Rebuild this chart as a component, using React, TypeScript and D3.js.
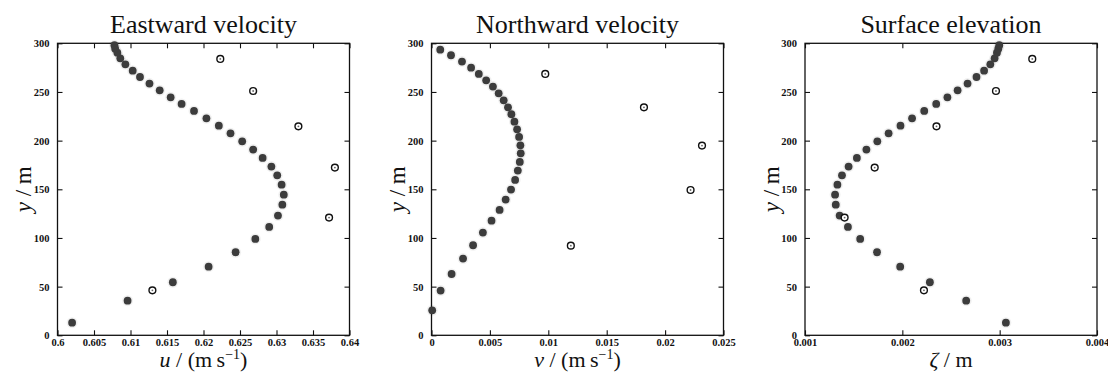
import React, {useRef, useEffect} from 'react'
import * as d3 from 'd3'

// model levels shared by eastward velocity and surface elevation
const levels = [13, 35.6, 54.5, 70.5, 85.3, 99, 111.3, 123, 134.2, 144.5, 154.8, 164.4, 173.3, 182.2, 190.8, 199.3, 207.5, 215.4, 222.9, 230.5, 237.7, 244.5, 251.7, 258.6, 265.4, 271.9, 278.4, 284.6, 290.4, 294.5, 298]
const eastModel = [0.602, 0.6096, 0.6158, 0.6207, 0.6244, 0.6271, 0.629, 0.6302, 0.6308, 0.631, 0.6307, 0.6301, 0.6293, 0.6281, 0.6268, 0.6253, 0.6237, 0.6221, 0.6204, 0.6187, 0.617, 0.6155, 0.614, 0.6126, 0.6113, 0.6103, 0.6093, 0.6086, 0.6082, 0.6079, 0.6078]
const elevModel = [0.003064, 0.002656, 0.002283, 0.001978, 0.00174, 0.001567, 0.001441, 0.001356, 0.001316, 0.001309, 0.001333, 0.00138, 0.001448, 0.001533, 0.001631, 0.001743, 0.001859, 0.001981, 0.0021, 0.002225, 0.002348, 0.002463, 0.002568, 0.00267, 0.002762, 0.00284, 0.002904, 0.002948, 0.002972, 0.002986, 0.002996]

// staggered levels for northward velocity
const northLevels = [25.7, 45.9, 63, 78.8, 92.5, 105.5, 117.8, 128.8, 139.4, 149.7, 159.6, 169.2, 178.1, 187, 195.2, 203.8, 211.6, 219.5, 227.1, 234.2, 241.4, 248.6, 255.5, 262, 268.5, 275, 281.2, 287.7, 293.5]
const northModel = [0.00006, 0.00078, 0.00172, 0.0027, 0.00356, 0.0044, 0.00514, 0.00583, 0.00635, 0.00681, 0.00716, 0.00739, 0.00756, 0.00764, 0.00761, 0.0075, 0.00733, 0.0071, 0.00684, 0.00655, 0.00618, 0.00575, 0.00526, 0.00468, 0.00405, 0.00339, 0.00261, 0.00167, 0.00075]

// observations (open circles)
const eastObsY = [283.9, 251, 214.7, 172.3, 120.9, 46.2]
const eastObs = [0.6223, 0.6268, 0.633, 0.638, 0.6372, 0.613]
const northObsY = [268.5, 234.2, 194.9, 149.3, 92.1]
const northObs = [0.00974, 0.01819, 0.02316, 0.02218, 0.01193]
const elevObsY = [283.9, 251, 214.7, 172.3, 120.9, 46.2]
const elevObs = [0.003335, 0.002962, 0.002351, 0.001716, 0.001407, 0.002222]

const yTicks = [0, 50, 100, 150, 200, 250, 300]
const eastTicks = [0.6, 0.605, 0.61, 0.615, 0.62, 0.625, 0.63, 0.635, 0.64]
const northTicks = [0, 0.005, 0.01, 0.015, 0.02, 0.025]
const elevTicks = [0.001, 0.002, 0.003, 0.004]

const titles = ['Eastward velocity', 'Northward velocity', 'Surface elevation']

const panels = [
  {title: titles[0], ticks: eastTicks, mx: eastModel, my: levels, ox: eastObs, oy: eastObsY, sym: 'u', unit: 'vel'},
  {title: titles[1], ticks: northTicks, mx: northModel, my: northLevels, ox: northObs, oy: northObsY, sym: 'v', unit: 'vel'},
  {title: titles[2], ticks: elevTicks, mx: elevModel, my: levels, ox: elevObs, oy: elevObsY, sym: 'ζ', unit: 'm'}
]

const font = 'Liberation Serif, DejaVu Serif, serif'
const size = 292
const top = 43.3
const lefts = [57.5, 431.5, 805]

export default function App() {
  const ref = useRef<SVGSVGElement>(null)

  useEffect(() => {
    const svg = d3.select(ref.current)
    svg.selectAll('*').remove()

    panels.forEach((p, i) => {
      const g = svg.append('g').attr('transform', `translate(${lefts[i]},${top})`)

      const x = d3
        .scaleLinear()
        .domain([p.ticks[0], p.ticks[p.ticks.length - 1]])
        .range([0, size])
      const y = d3.scaleLinear().domain([0, 300]).range([size, 0])
      const fmt = (d: any) => String(+(+d).toFixed(4))

      const bottom = g
        .append('g')
        .attr('transform', `translate(0,${size})`)
        .call(d3.axisBottom(x).tickValues(p.ticks).tickSize(-5).tickSizeOuter(0).tickPadding(3).tickFormat(fmt))
      g.append('g').call(d3.axisTop(x).tickValues(p.ticks).tickSize(-5).tickSizeOuter(0).tickFormat(() => ''))
      const left = g
        .append('g')
        .call(d3.axisLeft(y).tickValues(yTicks).tickSize(-5).tickSizeOuter(0).tickPadding(8))
      g.append('g')
        .attr('transform', `translate(${size},0)`)
        .call(d3.axisRight(y).tickValues(yTicks).tickSize(-5).tickSizeOuter(0).tickFormat(() => ''))

      g.selectAll('.domain').remove()
      g.selectAll('.tick line').attr('stroke', '#111').attr('stroke-width', 1.1)
      ;[bottom, left].forEach(a =>
        a
          .selectAll('text')
          .style('font-family', font)
          .attr('font-size', 10.5)
          .attr('font-weight', 'bold')
          .attr('fill', '#111')
      )

      g.append('rect')
        .attr('width', size)
        .attr('height', size)
        .attr('fill', 'none')
        .attr('stroke', '#111')
        .attr('stroke-width', 1.3)

      // model points
      const model = d3.zip(p.mx, p.my)
      g.append('g')
        .selectAll('circle')
        .data(model)
        .join('circle')
        .attr('cx', d => x(d[0]))
        .attr('cy', d => y(d[1]))
        .attr('r', 5.5)
        .attr('fill', '#000')
        .attr('opacity', 0.06)
      g.append('g')
        .selectAll('circle')
        .data(model)
        .join('circle')
        .attr('cx', d => x(d[0]))
        .attr('cy', d => y(d[1]))
        .attr('r', 3.9)
        .attr('fill', '#3c3c3c')

      // observations
      const obs = d3.zip(p.ox, p.oy)
      const og = g.append('g').selectAll('g').data(obs).join('g')
      og.append('circle')
        .attr('cx', d => x(d[0]))
        .attr('cy', d => y(d[1]))
        .attr('r', 3.4)
        .attr('fill', '#fff')
        .attr('stroke', '#111')
        .attr('stroke-width', 1.4)
      og.append('circle')
        .attr('cx', d => x(d[0]))
        .attr('cy', d => y(d[1]))
        .attr('r', 0.9)
        .attr('fill', '#666')

      // title
      g.append('text')
        .attr('x', size / 2)
        .attr('y', -10)
        .attr('text-anchor', 'middle')
        .style('font-family', font)
        .attr('font-size', 26)
        .attr('fill', '#111')
        .text(p.title)

      // x label
      const xl = g
        .append('text')
        .attr('x', size / 2)
        .attr('y', size + 32)
        .attr('text-anchor', 'middle')
        .style('font-family', font)
        .attr('font-size', 22)
        .attr('fill', '#111')
      xl.append('tspan').attr('font-style', 'italic').text(p.sym)
      if (p.unit === 'vel') {
        xl.append('tspan').text(' / (m\u2009s')
        xl.append('tspan').attr('font-size', 14).attr('dy', -8).text('\u22121')
        xl.append('tspan').attr('dy', 8).text(')')
      } else {
        xl.append('tspan').text(' / m')
      }

      // y label
      const yl = g
        .append('text')
        .attr('transform', `translate(-26.5,${size / 2}) rotate(-90)`)
        .attr('text-anchor', 'middle')
        .style('font-family', font)
        .attr('font-size', 23)
        .attr('fill', '#111')
      yl.append('tspan').attr('font-style', 'italic').text('y')
      yl.append('tspan').text(' / m')
    })
  }, [])

  return (
    <svg
      ref={ref}
      width={1108}
      height={372}
      style={{position: 'absolute', left: 0, top: 0, background: '#fff'}}
    />
  )
}
